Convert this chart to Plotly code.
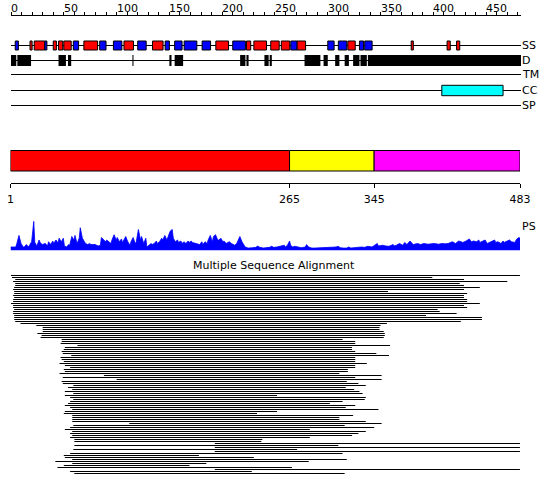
import plotly.graph_objects as go

# ---------------- data ----------------
SEQ_LEN = 483
ruler_ticks = list(range(0, 481, 10))
ruler_labels = list(range(0, 451, 50))

# secondary structure: H = helix (red), E = strand (blue)
ss_start = [4, 18, 22, 32, 40, 45, 50, 59, 69, 84, 97, 107, 120, 134, 146, 155, 164, 181,
            194, 210, 223, 230, 246, 256, 265, 271, 300, 310, 319, 330, 335, 379, 413, 422]
ss_end = [7, 20, 32, 34, 43, 49, 57, 64, 82, 90, 105, 116, 128, 144, 150, 162, 176, 189,
          206, 222, 227, 242, 254, 264, 271, 279, 306, 318, 326, 334, 342, 381, 416, 425]
ss_type = ["E", "H", "H", "E", "H", "H", "H", "E", "H", "E", "E", "H", "E", "H", "E", "E", "E", "E",
           "H", "E", "H", "H", "H", "H", "E", "H", "E", "E", "H", "E", "E", "H", "H", "H"]

# disorder
dis_start = [0, 6, 45, 54, 115, 150, 155, 217, 223, 240, 245, 278, 296, 307, 316, 324, 331, 338]
dis_end = [5, 19, 52, 57, 116, 152, 163, 222, 225, 244, 247, 293, 300, 311, 320, 330, 337, 483]

# coiled coil
cc_start = [408]
cc_end = [466]

track_names = ["SS", "D", "TM", "CC", "SP"]

# domain boundaries
dom_start = [1, 265, 345]
dom_end = [265, 345, 483]
dom_ticks = [1, 265, 345, 483]

# PS profile (residue, score)
ps_pos = [1, 6, 7, 9, 11, 13, 14, 16, 18, 19, 21, 23, 24, 26, 28, 29, 31, 34, 36, 37, 39, 41, 42, 44,
          46, 47, 49, 51, 52, 54, 56, 57, 59, 61, 62, 64, 66, 67, 69, 71, 72, 74, 76, 77, 81, 84, 86,
          87, 89, 91, 92, 94, 96, 97, 99, 101, 102, 104, 106, 107, 109, 110, 112, 114, 115, 117, 119,
          120, 122, 124, 125, 127, 129, 130, 132, 134, 135, 137, 139, 140, 142, 144, 145, 147, 149,
          150, 152, 154, 155, 157, 159, 160, 162, 164, 165, 167, 169, 170, 172, 173, 177, 180, 182,
          183, 185, 187, 188, 190, 192, 193, 195, 197, 198, 200, 202, 203, 205, 207, 208, 210, 212,
          213, 215, 217, 218, 220, 222, 223, 225, 226, 230, 233, 235, 236, 240, 243, 246, 248, 250,
          253, 256, 260, 261, 263, 265, 266, 268, 270, 273, 276, 280, 281, 283, 286, 289, 296, 303,
          309, 311, 313, 316, 319, 321, 323, 326, 329, 333, 336, 339, 343, 346, 348, 349, 353, 356,
          359, 363, 364, 366, 369, 372, 374, 376, 379, 381, 382, 386, 389, 392, 396, 399, 402, 406,
          409, 412, 415, 419, 422, 425, 429, 432, 435, 437, 439, 442, 444, 445, 449, 450, 452, 455,
          459, 460, 462, 465, 467, 468, 472, 473, 475, 478, 480, 482, 483]
ps_val = [10, 10, 20, 43, 20, 10, 10, 17, 10, 15, 25, 83, 23, 13, 30, 23, 17, 20, 13, 25, 17, 27, 20, 30,
          22, 35, 25, 35, 13, 10, 17, 15, 40, 30, 43, 20, 35, 65, 35, 25, 20, 17, 20, 17, 17, 13, 15,
          37, 30, 25, 30, 25, 20, 30, 45, 30, 37, 25, 33, 23, 37, 40, 25, 15, 25, 37, 20,
          25, 60, 30, 40, 20, 35, 10, 15, 20, 17, 20, 27, 20, 25, 35, 30, 43, 30,
          40, 55, 60, 35, 25, 30, 23, 27, 20, 25, 20, 27, 23, 27, 23, 20, 17, 25,
          17, 25, 20, 30, 43, 25, 40, 45, 30, 30, 35, 25, 27, 20, 23, 25, 20, 17,
          15, 20, 35, 40, 25, 15, 10, 8, 7, 8, 9, 13, 10, 7, 8, 9, 12, 9,
          10, 12, 15, 10, 15, 27, 15, 10, 12, 10, 8, 10, 17, 10, 7, 7, 8, 8,
          10, 12, 8, 7, 7, 10, 7, 8, 9, 10, 9, 12, 10, 15, 20, 13, 15, 13,
          12, 17, 13, 15, 20, 15, 23, 17, 27, 20, 17, 20, 17, 20, 18, 19, 20, 18,
          20, 19, 20, 25, 20, 27, 23, 27, 33, 25, 27, 25, 30, 23, 27, 30, 20, 25,
          30, 23, 25, 20, 27, 23, 27, 30, 25, 23, 33, 37, 35]

# multiple sequence alignment: start / end of each aligned sequence
msa_start = [0, 1, 4, 2, 4, 4, 3, 2, 3, 3, 2, 3, 2, 2, 0, 2, 2, 3, 2, 2,
             3, 3, 3, 4, 9, 24, 30, 30, 30, 25, 29, 28, 48, 48, 47, 63, 51, 50, 48, 49,
             57, 47, 48, 50, 46, 51, 56, 50, 51, 46, 88, 49, 100, 48, 49, 59, 54, 58, 51, 59,
             51, 56, 59, 56, 54, 51, 56, 58, 51, 50, 58, 58, 58, 58, 112, 59, 56, 51, 58, 56,
             58, 56, 60, 60, 193, 60, 193, 59, 193, 56, 50, 51, 58, 42, 58, 50, 44, 193, 56, 60]
msa_end = [482, 399, 429, 470, 425, 429, 444, 429, 357, 432, 429, 429, 432, 432, 444, 429, 432, 404, 406, 422,
           393, 446, 446, 426, 356, 350, 349, 349, 353, 354, 354, 353, 314, 326, 326, 359, 323, 323, 326, 346,
           358, 326, 326, 326, 337, 326, 326, 319, 319, 311, 351, 326, 351, 318, 329, 336, 317, 325, 330, 333,
           252, 336, 335, 314, 302, 326, 317, 348, 252, 233, 324, 311, 311, 336, 351, 316, 344, 283, 336, 329,
           323, 283, 238, 237, 482, 310, 482, 271, 482, 314, 178, 230, 318, 282, 185, 169, 266, 482, 228, 316]

# ---------------- layout constants ----------------
W, H = 550, 495
FONT = "DejaVu Sans"
TOP_PX = (11, 521)       # pixel span of 0..SEQ_LEN on the feature axis
LOW_PX = (10.5, 520)     # pixel span of 1..SEQ_LEN on the domain axis
RULER_Y = 15
track_y = {"SS": 45.5, "D": 60.5, "TM": 74.5, "CC": 90.5, "SP": 105.5}
SS_HALF, D_HALF, CC_HALF = 4.5, 5.5, 5.2
DOM_Y = (150.5, 171)
SCALE_Y = 183
PS_BASE, PS_TOP, PS_RANGE = 250.5, 220.5, 85.6
MSA_Y0, MSA_DY = 275.5, 2
MSA_TITLE_Y = 265
ss_color = {"H": "#ff0000", "E": "#0000ff"}
dom_color = ["#ff0000", "#ffff00", "#ff00ff"]

fig = go.Figure()
shapes = []
annotations = []

# track base lines
for name in track_names:
    shapes.append(dict(type="line", xref="x", yref="y", x0=0, x1=SEQ_LEN,
                       y0=track_y[name], y1=track_y[name], line=dict(color="black", width=1), layer="below"))
    annotations.append(dict(x=SEQ_LEN, y=track_y[name], xref="x", yref="y", text=name, showarrow=False,
                            xanchor="left", yanchor="middle", xshift=-1,
                            font=dict(family=FONT, size=11, color="black")))

# SS boxes
for s, e, t in zip(ss_start, ss_end, ss_type):
    shapes.append(dict(type="rect", xref="x", yref="y", x0=s, x1=e,
                       y0=track_y["SS"] - SS_HALF, y1=track_y["SS"] + SS_HALF,
                       fillcolor=ss_color[t], line=dict(color="black", width=1)))
# disorder boxes
for s, e in zip(dis_start, dis_end):
    shapes.append(dict(type="rect", xref="x", yref="y", x0=s, x1=e,
                       y0=track_y["D"] - D_HALF, y1=track_y["D"] + D_HALF,
                       fillcolor="black", line=dict(color="black", width=0)))
# coiled coil
for s, e in zip(cc_start, cc_end):
    shapes.append(dict(type="rect", xref="x", yref="y", x0=s, x1=e,
                       y0=track_y["CC"] - CC_HALF, y1=track_y["CC"] + CC_HALF,
                       fillcolor="#00ffff", line=dict(color="black", width=1)))

# domain bar
for s, e, c in zip(dom_start, dom_end, dom_color):
    shapes.append(dict(type="rect", xref="x2", yref="y", x0=s, x1=e, y0=DOM_Y[0], y1=DOM_Y[1],
                       fillcolor=c, line=dict(color="black", width=1)))

# top ruler labels
for v in ruler_labels:
    annotations.append(dict(x=v, y=RULER_Y - 7, xref="x", yref="y", text=str(v), showarrow=False,
                            xanchor="left", yanchor="middle", xshift=-2,
                            font=dict(family=FONT, size=11, color="black")))

# PS label and MSA title
annotations.append(dict(x=SEQ_LEN, y=PS_TOP + 6, xref="x2", yref="y", text="PS", showarrow=False,
                        xanchor="left", yanchor="middle", font=dict(family=FONT, size=11, color="black")))
annotations.append(dict(x=274 / W, y=MSA_TITLE_Y, xref="paper", yref="y", text="Multiple Sequence Alignment",
                        showarrow=False, xanchor="center", yanchor="middle",
                        font=dict(family=FONT, size=11, color="black")))

# PS profile
fig.add_trace(go.Scatter(x=ps_pos, y=ps_val, xaxis="x2", yaxis="y3", mode="lines",
                         line=dict(color="#0000ff", width=0.8), fill="tozeroy", fillcolor="#0000ff",
                         hoverinfo="skip", showlegend=False))

# MSA lines
mx, my = [], []
for i, (s, e) in enumerate(zip(msa_start, msa_end)):
    yy = MSA_Y0 + i * MSA_DY
    mx += [s, e, None]
    my += [yy, yy, None]
fig.add_trace(go.Scatter(x=mx, y=my, xaxis="x", yaxis="y", mode="lines",
                         line=dict(color="black", width=1), hoverinfo="skip", showlegend=False))

fig.update_layout(
    width=W, height=H, margin=dict(l=0, r=0, t=0, b=0, autoexpand=False),
    paper_bgcolor="white", plot_bgcolor="rgba(0,0,0,0)",
    showlegend=False, shapes=shapes, annotations=annotations,
    xaxis=dict(domain=[TOP_PX[0] / W, TOP_PX[1] / W], range=[0, SEQ_LEN], side="top",
               anchor="free", position=1 - RULER_Y / H, showline=True, linecolor="black", linewidth=1,
               ticks="outside", ticklen=3, tickcolor="black", tickwidth=1, tickvals=ruler_ticks,
               showticklabels=False, showgrid=False, zeroline=False, fixedrange=True, automargin=False),
    xaxis2=dict(domain=[LOW_PX[0] / W, LOW_PX[1] / W], range=[1, SEQ_LEN], side="bottom",
                anchor="free", position=1 - SCALE_Y / H, showline=True, linecolor="black", linewidth=1,
                ticks="outside", ticklen=4, tickcolor="black", tickwidth=1, tickvals=dom_ticks,
                ticktext=[str(t) for t in dom_ticks], tickfont=dict(family=FONT, size=11, color="black"),
                ticklabelstandoff=2,
                showgrid=False, zeroline=False, fixedrange=True, automargin=False),
    yaxis=dict(domain=[0, 1], range=[H, 0], visible=False, fixedrange=True, automargin=False),
    yaxis3=dict(domain=[(H - PS_BASE) / H, (H - PS_TOP) / H], range=[0, PS_RANGE], anchor="x2",
                visible=False, fixedrange=True, automargin=False),
)

fig.write_html("out.html", config={"displayModeBar": False},
               post_script="document.body.style.margin='0';document.body.style.overflow='hidden';")
